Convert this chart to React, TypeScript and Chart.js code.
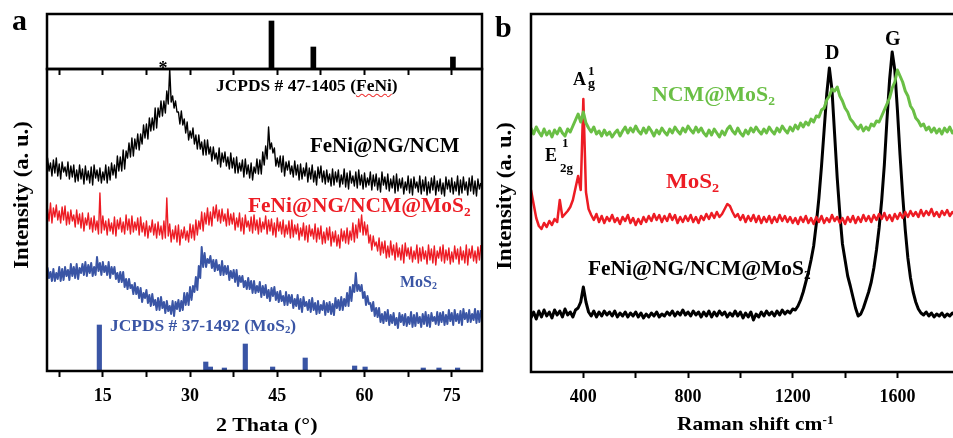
import React, { useEffect, useRef } from 'react';
import { Chart, registerables } from 'chart.js';

Chart.register(...registerables);

const FONT = '"Liberation Serif", "Times New Roman", serif';

// ---------- Panel a : XRD (2θ grid, 0.25°) ----------
const XRD_X = [
  5, 5.25, 5.5, 5.75, 6, 6.25, 6.5, 6.75, 7, 7.25,
  7.5, 7.75, 8, 8.25, 8.5, 8.75, 9, 9.25, 9.5, 9.75,
  10, 10.25, 10.5, 10.75, 11, 11.25, 11.5, 11.75, 12, 12.25,
  12.5, 12.75, 13, 13.25, 13.5, 13.75, 14, 14.25, 14.5, 14.75,
  15, 15.25, 15.5, 15.75, 16, 16.25, 16.5, 16.75, 17, 17.25,
  17.5, 17.75, 18, 18.25, 18.5, 18.75, 19, 19.25, 19.5, 19.75,
  20, 20.25, 20.5, 20.75, 21, 21.25, 21.5, 21.75, 22, 22.25,
  22.5, 22.75, 23, 23.25, 23.5, 23.75, 24, 24.25, 24.5, 24.75,
  25, 25.25, 25.5, 25.75, 26, 26.25, 26.5, 26.75, 27, 27.25,
  27.5, 27.75, 28, 28.25, 28.5, 28.75, 29, 29.25, 29.5, 29.75,
  30, 30.25, 30.5, 30.75, 31, 31.25, 31.5, 31.75, 32, 32.25,
  32.5, 32.75, 33, 33.25, 33.5, 33.75, 34, 34.25, 34.5, 34.75,
  35, 35.25, 35.5, 35.75, 36, 36.25, 36.5, 36.75, 37, 37.25,
  37.5, 37.75, 38, 38.25, 38.5, 38.75, 39, 39.25, 39.5, 39.75,
  40, 40.25, 40.5, 40.75, 41, 41.25, 41.5, 41.75, 42, 42.25,
  42.5, 42.75, 43, 43.25, 43.5, 43.75, 44, 44.25, 44.5, 44.75,
  45, 45.25, 45.5, 45.75, 46, 46.25, 46.5, 46.75, 47, 47.25,
  47.5, 47.75, 48, 48.25, 48.5, 48.75, 49, 49.25, 49.5, 49.75,
  50, 50.25, 50.5, 50.75, 51, 51.25, 51.5, 51.75, 52, 52.25,
  52.5, 52.75, 53, 53.25, 53.5, 53.75, 54, 54.25, 54.5, 54.75,
  55, 55.25, 55.5, 55.75, 56, 56.25, 56.5, 56.75, 57, 57.25,
  57.5, 57.75, 58, 58.25, 58.5, 58.75, 59, 59.25, 59.5, 59.75,
  60, 60.25, 60.5, 60.75, 61, 61.25, 61.5, 61.75, 62, 62.25,
  62.5, 62.75, 63, 63.25, 63.5, 63.75, 64, 64.25, 64.5, 64.75,
  65, 65.25, 65.5, 65.75, 66, 66.25, 66.5, 66.75, 67, 67.25,
  67.5, 67.75, 68, 68.25, 68.5, 68.75, 69, 69.25, 69.5, 69.75,
  70, 70.25, 70.5, 70.75, 71, 71.25, 71.5, 71.75, 72, 72.25,
  72.5, 72.75, 73, 73.25, 73.5, 73.75, 74, 74.25, 74.5, 74.75,
  75, 75.25, 75.5, 75.75, 76, 76.25, 76.5, 76.75, 77, 77.25,
  77.5, 77.75, 78, 78.25, 78.5, 78.75, 79, 79.25, 79.5, 79.75,
  80,
];

const XRD_FENI_NG_NCM = [
  211, 198, 213, 200, 208, 195, 211, 198, 213, 195,
  207, 192, 209, 199, 204, 195, 209, 192, 205, 194,
  206, 189, 201, 190, 206, 192, 202, 187, 205, 191,
  200, 188, 204, 186, 206, 193, 201, 190, 203, 188,
  199, 191, 206, 188, 204, 191, 208, 196, 206, 193,
  215, 200, 214, 200, 221, 202, 220, 213, 228, 214,
  233, 215, 232, 222, 237, 221, 237, 227, 246, 233,
  247, 232, 253, 240, 253, 241, 263, 243, 263, 254,
  270, 255, 270, 258, 280, 267, 302, 269, 275, 263,
  270, 259, 259, 247, 260, 246, 252, 238, 249, 231,
  240, 233, 243, 227, 236, 222, 236, 222, 229, 216,
  231, 216, 231, 217, 224, 210, 224, 212, 218, 207,
  223, 204, 218, 209, 219, 205, 214, 202, 218, 203,
  213, 198, 214, 198, 208, 200, 211, 194, 212, 197,
  206, 193, 208, 191, 204, 198, 212, 197, 211, 197,
  219, 206, 225, 212, 244, 222, 228, 218, 223, 205,
  213, 204, 215, 199, 215, 195, 209, 201, 210, 197,
  205, 194, 210, 196, 206, 191, 207, 192, 203, 195,
  208, 189, 203, 192, 206, 189, 200, 186, 204, 193,
  205, 189, 200, 187, 201, 189, 197, 185, 202, 186,
  199, 189, 201, 184, 196, 187, 202, 184, 198, 182,
  200, 188, 195, 185, 199, 183, 201, 186, 196, 182,
  198, 184, 193, 186, 199, 181, 196, 185, 197, 181,
  193, 179, 199, 186, 194, 182, 197, 180, 192, 183,
  195, 178, 197, 180, 192, 183, 193, 177, 189, 181,
  195, 178, 192, 176, 194, 183, 189, 179, 195, 177,
  191, 180, 194, 176, 189, 178, 193, 181, 195, 176,
  190, 180, 192, 177, 188, 175, 194, 182, 191, 179,
  193, 177, 189, 180, 195, 176, 191, 178, 194, 181,
  189, 176, 193, 180, 195, 177, 190, 175, 192, 182,
  188,
];

const XRD_FENI_NG_NCM_MOS2 = [
  167, 154, 162, 150, 168, 148, 163, 154, 166, 151,
  160, 148, 164, 151, 165, 146, 159, 147, 161, 150,
  156, 144, 161, 147, 157, 143, 158, 140, 153, 146,
  158, 142, 153, 139, 155, 141, 150, 137, 178, 138,
  155, 141, 150, 136, 152, 140, 148, 137, 154, 135,
  151, 142, 153, 139, 149, 137, 156, 141, 152, 137,
  155, 139, 149, 141, 153, 136, 154, 139, 148, 135,
  150, 133, 145, 139, 151, 136, 147, 133, 149, 136,
  145, 132, 150, 133, 173, 135, 147, 129, 141, 132,
  145, 129, 146, 126, 141, 133, 144, 131, 140, 129,
  147, 133, 146, 131, 151, 136, 150, 142, 159, 140,
  158, 147, 163, 146, 159, 145, 164, 153, 166, 150,
  161, 148, 162, 150, 157, 145, 162, 146, 157, 147,
  158, 141, 153, 144, 158, 140, 153, 137, 156, 144,
  150, 140, 154, 138, 156, 141, 151, 137, 153, 139,
  149, 142, 155, 137, 151, 140, 152, 136, 148, 134,
  153, 140, 149, 137, 151, 134, 146, 137, 150, 133,
  151, 134, 146, 137, 147, 131, 143, 135, 148, 131,
  145, 129, 146, 135, 142, 132, 147, 129, 143, 132,
  145, 127, 139, 128, 143, 131, 144, 125, 139, 129,
  140, 125, 136, 123, 142, 130, 140, 128, 143, 127,
  140, 131, 148, 129, 146, 133, 152, 139, 156, 136,
  149, 136, 146, 128, 136, 121, 135, 125, 129, 120,
  133, 116, 129, 118, 130, 113, 125, 114, 130, 116,
  126, 111, 128, 114, 123, 111, 126, 108, 128, 115,
  123, 112, 124, 109, 120, 112, 126, 108, 123, 110,
  124, 112, 120, 107, 126, 111, 122, 108, 125, 106,
  120, 113, 124, 110, 126, 108, 121, 111, 123, 107,
  119, 109, 125, 112, 122, 107, 124, 111, 120, 108,
  126, 106, 122, 113, 125, 110, 120, 108, 124, 111,
  126,
];

const XRD_MOS2 = [
  100, 86, 103, 93, 99, 90, 102, 90, 98, 92,
  104, 90, 102, 91, 104, 95, 101, 91, 107, 95,
  104, 93, 107, 92, 103, 98, 107, 96, 109, 95,
  106, 98, 108, 95, 104, 96, 114, 100, 108, 96,
  109, 99, 105, 96, 109, 93, 104, 97, 104, 92,
  98, 89, 99, 89, 99, 84, 92, 82, 92, 83,
  86, 77, 88, 77, 84, 73, 83, 69, 78, 73,
  81, 68, 76, 65, 77, 66, 71, 61, 73, 61,
  74, 63, 69, 58, 70, 60, 65, 57, 70, 55,
  69, 62, 71, 60, 70, 61, 78, 66, 78, 66,
  84, 71, 85, 79, 94, 81, 105, 93, 124, 104,
  118, 104, 112, 108, 115, 103, 111, 100, 111, 101,
  106, 96, 110, 96, 105, 97, 105, 91, 100, 93,
  101, 89, 101, 85, 95, 89, 95, 84, 90, 82,
  93, 82, 90, 78, 90, 78, 85, 79, 89, 74,
  85, 76, 86, 73, 81, 70, 83, 75, 84, 71,
  79, 69, 80, 70, 75, 66, 79, 66, 76, 68,
  76, 63, 72, 65, 76, 62, 72, 59, 74, 65,
  69, 61, 71, 59, 73, 61, 68, 57, 70, 58,
  66, 61, 70, 56, 68, 59, 69, 57, 67, 56,
  73, 63, 71, 61, 74, 61, 72, 65, 78, 65,
  84, 70, 86, 79, 98, 80, 86, 80, 86, 73,
  79, 66, 75, 67, 68, 60, 69, 55, 63, 54,
  63, 49, 57, 48, 59, 50, 61, 46, 56, 48,
  58, 46, 53, 43, 58, 49, 56, 46, 57, 45,
  54, 47, 59, 44, 56, 45, 58, 48, 54, 44,
  57, 47, 59, 45, 56, 44, 58, 50, 54, 47,
  59, 46, 58, 49, 59, 46, 56, 47, 61, 50,
  58, 46, 61, 50, 57, 48, 60, 46, 62, 52,
  58, 49, 61, 49, 57, 51, 62, 48, 60, 49,
  61,
];

const FENI_REF_POS = [44.0, 51.2, 75.2];
const FENI_REF_INT = [48, 22, 12];

const MOS2_REF_POS = [14.4, 32.7, 33.5, 35.9, 39.5, 44.2, 49.8, 58.3, 60.1, 70.1, 72.8, 76.0];
const MOS2_REF_INT = [46, 9, 4, 3, 27, 4, 13, 5, 4, 3, 3, 3];

const XRD_TICKS = [7.5, 15, 22.5, 30, 37.5, 45, 52.5, 60, 67.5, 75];
const XRD_TICK_LABELS = [15, 30, 45, 60, 75];

// ---------- Panel b : Raman ----------
const RAMAN_X = [
  200, 210, 220, 230, 240, 250, 260, 270, 280, 290,
  300, 310, 320, 330, 340, 350, 360, 370, 380, 390,
  400, 410, 420, 430, 440, 450, 460, 470, 480, 490,
  500, 510, 520, 530, 540, 550, 560, 570, 580, 590,
  600, 610, 620, 630, 640, 650, 660, 670, 680, 690,
  700, 710, 720, 730, 740, 750, 760, 770, 780, 790,
  800, 810, 820, 830, 840, 850, 860, 870, 880, 890,
  900, 910, 920, 930, 940, 950, 960, 970, 980, 990,
  1000, 1010, 1020, 1030, 1040, 1050, 1060, 1070, 1080, 1090,
  1100, 1110, 1120, 1130, 1140, 1150, 1160, 1170, 1180, 1190,
  1200, 1210, 1220, 1230, 1240, 1250, 1260, 1270, 1280, 1290,
  1300, 1310, 1320, 1330, 1340, 1350, 1360, 1370, 1380, 1390,
  1400, 1410, 1420, 1430, 1440, 1450, 1460, 1470, 1480, 1490,
  1500, 1510, 1520, 1530, 1540, 1550, 1560, 1570, 1580, 1590,
  1600, 1610, 1620, 1630, 1640, 1650, 1660, 1670, 1680, 1690,
  1700, 1710, 1720, 1730, 1740, 1750, 1760, 1770, 1780, 1790,
  1800, 1810, 1820,
];

const RAMAN_NCM_MOS2 = [
  244, 238, 245, 240, 236, 243, 237, 241, 235, 242,
  238, 244, 239, 236, 243, 240, 246, 252, 258, 250,
  260, 249, 244, 240, 245, 238, 241, 236, 242, 237,
  240, 235, 239, 242, 236, 241, 245, 239, 244, 240,
  246, 241, 238, 244, 239, 245, 241, 236, 242, 238,
  244, 240, 237, 243, 239, 245, 241, 238, 244, 240,
  246, 242, 239, 245, 240, 244, 239, 236, 242, 237,
  243, 239, 235, 241, 237, 243, 246, 241, 238, 244,
  239, 236, 242, 238, 244, 240, 245, 241, 238, 243,
  239, 245, 241, 238, 244, 240, 246, 242, 239, 245,
  241, 247, 243, 249, 245, 250, 247, 253, 250, 256,
  255, 262, 264, 272, 276, 283, 281, 285, 276, 271,
  264, 260, 253, 250, 246, 243, 247, 241, 245, 242,
  248, 246, 251, 250, 256, 262, 268, 274, 284, 290,
  302, 296, 290, 281, 276, 266, 262, 254, 251, 246,
  248, 242, 245, 240, 244, 239, 243, 238, 244, 240,
  245, 239, 243,
];

const RAMAN_MOS2 = [
  182, 168, 154, 146, 143, 149, 145, 151, 147, 153,
  150, 172, 155, 158, 161, 165, 172, 184, 196, 182,
  273, 180, 163, 157, 152, 158, 150, 156, 149, 155,
  151, 157, 150, 154, 148, 155, 151, 157, 149, 154,
  147, 153, 148, 155, 150, 156, 151, 158, 152, 157,
  150, 156, 151, 158, 152, 157, 149, 155, 150, 156,
  151, 157, 150, 155, 149, 156, 152, 158, 153, 159,
  154, 160, 155, 158, 163, 168, 166, 160, 155, 158,
  152, 157, 150, 156, 151, 157, 150, 156, 149, 155,
  150, 156, 149, 155, 150, 157, 151, 156, 150, 155,
  149, 154, 148, 155, 150, 156, 149, 154, 148, 155,
  150, 156, 149, 154, 150, 157, 151, 155, 149, 154,
  148, 155, 150, 156, 149, 155, 150, 157, 151, 156,
  150, 157, 152, 158, 153, 159, 152, 157, 151, 158,
  153, 159, 154, 160, 155, 161, 156, 160, 155, 162,
  156, 161, 157, 163, 156, 160, 155, 161, 157, 162,
  156, 160, 157,
];

const RAMAN_FENI_NG_NCM_MOS2 = [
  54, 60, 53, 61, 55, 62, 56, 60, 54, 62,
  57, 61, 55, 63, 57, 60, 55, 62, 64, 70,
  85, 70, 60, 56, 61, 55, 60, 56, 61, 57,
  60, 56, 61, 55, 59, 56, 60, 55, 59, 56,
  60, 55, 59, 54, 58, 55, 59, 56, 60, 55,
  58, 56, 60, 57, 61, 56, 60, 57, 62, 57,
  60, 56, 61, 57, 60, 55, 60, 56, 61, 55,
  60, 56, 61, 57, 60, 55, 59, 56, 61, 56,
  60, 54, 59, 55, 60, 52, 58, 55, 60, 56,
  61, 57, 60, 56, 61, 57, 62, 58, 61, 59,
  63, 62, 66, 72, 80, 90, 100, 112, 126, 148,
  174, 206, 242, 278, 304, 282, 238, 194, 158, 128,
  112, 96, 86, 75, 64, 56, 58, 64, 72, 80,
  90, 104, 122, 144, 172, 207, 252, 292, 320, 302,
  262, 217, 177, 142, 114, 94, 80, 70, 63, 59,
  57, 60, 56, 59, 55, 58, 56, 59, 55, 58,
  56, 59, 57,
];

const RAMAN_TICKS = [400, 600, 800, 1000, 1200, 1400, 1600];
const RAMAN_TICK_LABELS = [400, 800, 1200, 1600];

// ---------- colours ----------
const BLACK = '#000000';
const RED = '#ed1c24';
const BLUE = '#3a55a5';
const GREEN = '#6abf45';

const framePlugin = {
  id: 'frame',
  afterDraw(chart: any) {
    const { ctx, chartArea: a } = chart;
    ctx.save();
    ctx.strokeStyle = '#000';
    ctx.lineWidth = 2.5;
    ctx.strokeRect(a.left, a.top, a.right - a.left, a.bottom - a.top);
    ctx.restore();
  },
};

function xAxis(min: number, max: number, ticks: number[], labels: number[], axisHeight: number) {
  return {
    type: 'linear',
    min,
    max,
    offset: false,
    border: { display: false },
    grid: {
      offset: false,
      drawOnChartArea: false,
      drawTicks: true,
      tickLength: 6,
      tickWidth: 2,
      tickColor: '#000',
      color: '#000',
    },
    ticks: {
      color: '#000',
      padding: 9,
      autoSkip: false,
      maxRotation: 0,
      font: { family: FONT, size: 18, weight: 'bold' },
      callback: (v: number) => (labels.includes(v) ? String(v) : ''),
    },
    afterBuildTicks: (s: any) => {
      s.ticks = ticks.map((v) => ({ value: v }));
    },
    afterFit: (s: any) => {
      s.height = axisHeight;
    },
  };
}

function yAxis(max: number) {
  return { type: 'linear', display: false, min: 0, max };
}

function line(xs: number[], ys: number[], color: string, width: number) {
  return {
    type: 'line',
    data: xs.map((x, i) => ({ x, y: ys[i] })),
    borderColor: color,
    borderWidth: width,
    pointRadius: 0,
    tension: 0,
    fill: false,
    borderJoinStyle: 'round',
  };
}

function bars(xs: number[], ys: number[], color: string, thickness: number) {
  return {
    type: 'bar',
    data: xs.map((x, i) => ({ x, y: ys[i] })),
    backgroundColor: color,
    borderWidth: 0,
    barThickness: thickness,
  };
}

function baseOptions(padding: any, scales: any) {
  return {
    responsive: false,
    animation: false,
    events: [],
    layout: { padding },
    plugins: { legend: { display: false }, tooltip: { enabled: false } },
    scales,
  };
}

function T({ x, b, s, c = '#000', sx = 1, children }: any) {
  return (
    <div
      style={{
        position: 'absolute',
        left: x,
        top: b - 0.837 * s,
        fontSize: s,
        lineHeight: 1,
        color: c,
        whiteSpace: 'nowrap',
        transform: `scaleX(${sx})`,
        transformOrigin: '0 0',
      }}
    >
      {children}
    </div>
  );
}

const Sub = ({ children }: any) => (
  <span style={{ fontSize: '0.62em', position: 'relative', top: '0.28em' }}>{children}</span>
);
const Sup = ({ children }: any) => (
  <span style={{ fontSize: '0.62em', position: 'relative', top: '-0.55em' }}>{children}</span>
);

function YTitle({ cx, cy }: any) {
  return (
    <div
      style={{
        position: 'absolute',
        left: cx,
        top: cy,
        fontSize: 21,
        lineHeight: 1,
        whiteSpace: 'nowrap',
        color: '#000',
        transform: 'translate(-50%, -50%) rotate(-90deg) scaleX(1.08)',
      }}
    >
      Intensity (a. u.)
    </div>
  );
}

export default function App() {
  const aTop = useRef<HTMLCanvasElement>(null);
  const aMain = useRef<HTMLCanvasElement>(null);
  const bMain = useRef<HTMLCanvasElement>(null);

  useEffect(() => {
    Chart.defaults.font.family = FONT;
    const charts: Chart[] = [];

    charts.push(
      new Chart(aTop.current as any, {
        type: 'line',
        data: { datasets: [bars(FENI_REF_POS, FENI_REF_INT, BLACK, 5) as any] },
        options: baseOptions(
          { left: 47, right: 8, top: 14, bottom: 0 },
          { x: xAxis(5.4, 80.2, XRD_TICKS, [], 11), y: yAxis(55) }
        ) as any,
        plugins: [framePlugin],
      })
    );

    charts.push(
      new Chart(aMain.current as any, {
        type: 'line',
        data: {
          datasets: [
            line(XRD_X, XRD_FENI_NG_NCM, BLACK, 1.4),
            line(XRD_X, XRD_FENI_NG_NCM_MOS2, RED, 1.4),
            line(XRD_X, XRD_MOS2, BLUE, 2),
            bars(MOS2_REF_POS, MOS2_REF_INT, BLUE, 4.5),
          ] as any,
        },
        options: baseOptions(
          { left: 47, right: 8, top: 69, bottom: 0 },
          { x: xAxis(5.4, 80.2, XRD_TICKS, XRD_TICK_LABELS, 67), y: yAxis(302) }
        ) as any,
        plugins: [framePlugin],
      })
    );

    charts.push(
      new Chart(bMain.current as any, {
        type: 'line',
        data: {
          datasets: [
            line(RAMAN_X, RAMAN_NCM_MOS2, GREEN, 3),
            line(RAMAN_X, RAMAN_MOS2, RED, 2.5),
            line(RAMAN_X, RAMAN_FENI_NG_NCM_MOS2, BLACK, 3),
          ] as any,
        },
        options: baseOptions(
          { left: 41, right: 0, top: 14, bottom: 0 },
          { x: xAxis(200, 1820, RAMAN_TICKS, RAMAN_TICK_LABELS, 66), y: yAxis(358) }
        ) as any,
        plugins: [framePlugin],
      })
    );

    return () => charts.forEach((c) => c.destroy());
  }, []);

  return (
    <div
      style={{
        position: 'fixed',
        left: 0,
        top: 0,
        width: 953,
        height: 438,
        overflow: 'hidden',
        background: '#fff',
        fontFamily: FONT,
        fontWeight: 'bold',
      }}
    >
      <canvas ref={aTop} width={490} height={80} style={{ position: 'absolute', left: 0, top: 0 }} />
      <canvas ref={aMain} width={490} height={438} style={{ position: 'absolute', left: 0, top: 0 }} />
      <canvas ref={bMain} width={465} height={438} style={{ position: 'absolute', left: 490, top: 0 }} />

      {/* panel a */}
      <T x={12} b={30} s={30}>a</T>
      <T x={158.5} b={74} s={18}>*</T>
      <T x={216} b={91} s={16} sx={1.09}>
        JCPDS # 47-1405 (
        <span style={{ textDecoration: 'underline wavy #e33', textDecorationThickness: '1px', textUnderlineOffset: '2px' }}>FeNi</span>
        )
      </T>
      <T x={310} b={152} s={22} sx={0.95}>FeNi@NG/NCM</T>
      <T x={248} b={213} s={21} sx={1.02} c={RED}>
        FeNi@NG/NCM@MoS<Sub>2</Sub>
      </T>
      <T x={400} b={287} s={16} c={BLUE}>
        MoS<Sub>2</Sub>
      </T>
      <T x={110} b={331} s={16} sx={1.09} c={BLUE}>
        JCPDS # 37-1492 (MoS<Sub>2</Sub>)
      </T>
      <T x={216} b={431} s={19} sx={1.16}>2 Thata (°)</T>
      <YTitle cx={21} cy={195} />

      {/* panel b */}
      <T x={495} b={37} s={30}>b</T>
      <T x={573} b={85} s={18}>A</T>
      <T x={588} b={75} s={13}>1</T>
      <T x={588} b={89} s={14}>g</T>
      <T x={545} b={161} s={18}>E</T>
      <T x={562} b={147} s={13}>1</T>
      <T x={560} b={172} s={13}>2g</T>
      <T x={652} b={102} s={21} sx={1.04} c={GREEN}>
        NCM@MoS<Sub>2</Sub>
      </T>
      <T x={825} b={59} s={20}>D</T>
      <T x={885} b={45} s={20}>G</T>
      <T x={666} b={188} s={20} sx={1.15} c={RED}>
        MoS<Sub>2</Sub>
      </T>
      <T x={588} b={276} s={21} sx={1.02}>
        FeNi@NG/NCM@MoS<Sub>2</Sub>
      </T>
      <T x={677} b={430} s={19} sx={1.13}>
        Raman shift cm<Sup>-1</Sup>
      </T>
      <YTitle cx={503.5} cy={196} />
    </div>
  );
}
